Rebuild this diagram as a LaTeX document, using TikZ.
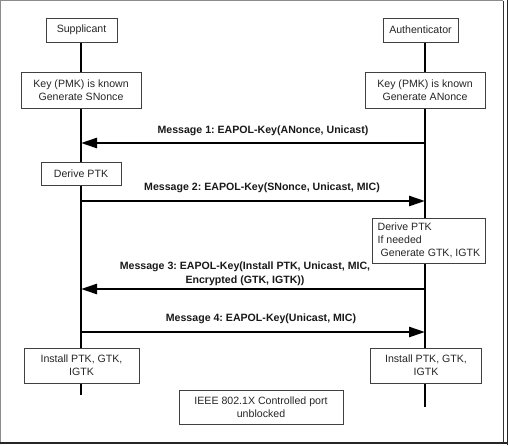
\documentclass[tikz,border=0pt]{standalone}
\usepackage{fontspec}
\setmainfont{Liberation Sans}
\usetikzlibrary{arrows.meta}
\frenchspacing
\begin{document}
\begin{tikzpicture}[x=1pt,y=-1pt,
  box/.style={draw=black!75,line width=0.8pt,fill=white,inner sep=0pt,align=center,
    font=\fontsize{10.6}{13}\selectfont,text=black!85},
  life/.style={line width=2.6pt,black},
  msg/.style={line width=2.5pt,black,-{Triangle[length=16pt,width=10pt]}},
  lbl/.style={font=\fontsize{10.6}{13.5}\selectfont\bfseries,align=center,text=black!90,inner sep=0pt}]
\useasboundingbox (0,0) rectangle (508,445);
% frame
\draw[black!45,line width=0.8pt] (0.5,443) -- (0.5,0.8) -- (503,0.8);
\draw[black!80,line width=0.9pt] (503,0.8) -- (503,443);
\draw[black!85,line width=0.9pt] (507,0) -- (507,445);
\draw[black!85,line width=1.6pt] (0,443) -- (508,443);
% lifeline coordinates
\coordinate (sTop) at (81,42);
\coordinate (sEnd) at (81,395);
\coordinate (aTop) at (425,42);
\coordinate (aEnd) at (425,407);
\draw[life] (sTop) -- (sEnd);
\draw[life] (aTop) -- (aEnd);
% boxes
\node[box,minimum width=71pt,minimum height=24pt] (sup) at (81.5,30) {Supplicant};
\node[box,minimum width=75pt,minimum height=24pt] (auth) at (420.5,30) {Authenticator};
\node[box,minimum width=120pt,minimum height=36pt] (keyS) at (81,90) {Key (PMK) is known\\Generate SNonce};
\node[box,minimum width=120pt,minimum height=36pt] (keyA) at (425,90) {Key (PMK) is known\\Generate ANonce};
\node[box,minimum width=80pt,minimum height=23pt] (derS) at (81,173.5) {Derive PTK};
\node[box,minimum height=45pt,minimum width=113pt,align=left,anchor=west] (derA) at (372,240.5)
  {Derive PTK\\If needed\\\hspace*{3pt}Generate GTK, IGTK};
\node[box,minimum width=115pt,minimum height=35pt] (instS) at (81.5,365.5) {Install PTK, GTK,\\IGTK};
\node[box,minimum width=111pt,minimum height=35pt] (instA) at (426,365.5) {Install PTK, GTK,\\IGTK};
\node[box,minimum width=164pt,minimum height=34pt] (ieee) at (261,407) {IEEE 802.1X Controlled port\\unblocked};
% message endpoints
\coordinate (m1a) at (425,143); \coordinate (m1s) at (81,143);
\coordinate (m2s) at (81,201); \coordinate (m2a) at (425,201);
\coordinate (m3a) at (425,289); \coordinate (m3s) at (81,289);
\coordinate (m4s) at (81,332); \coordinate (m4a) at (425,332);
\draw[msg] (m1a) -- (m1s);
\draw[msg] (m2s) -- (m2a);
\draw[msg] (m3a) -- (m3s);
\draw[msg] (m4s) -- (m4a);
% labels
\node[lbl] (l1) at (263,131) {Message 1: EAPOL-Key(ANonce, Unicast)};
\node[lbl] (l2) at (262,188) {Message 2: EAPOL-Key(SNonce, Unicast, MIC)};
\node[lbl] (l3) at (245,274) {Message 3: EAPOL-Key(Install PTK, Unicast, MIC,\\Encrypted (GTK, IGTK))};
\node[lbl] (l4) at (261,319) {Message 4: EAPOL-Key(Unicast, MIC)};
\end{tikzpicture}
\end{document}
